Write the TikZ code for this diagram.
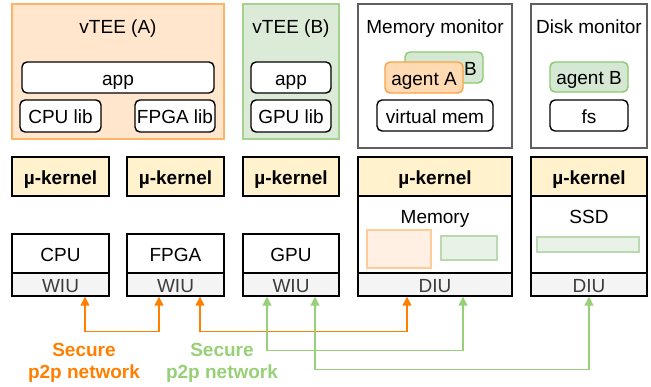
\documentclass[tikz,border=0pt]{standalone}
\usepackage{fontspec}
\setmainfont{Liberation Sans}
\usepackage{xcolor}
\usetikzlibrary{arrows.meta}
\definecolor{teeA}{RGB}{255,230,204}
\definecolor{teeAline}{RGB}{255,179,102}
\definecolor{teeB}{RGB}{220,235,216}
\definecolor{teeBline}{RGB}{165,210,145}
\definecolor{agA}{RGB}{255,218,178}
\definecolor{agAline}{RGB}{255,160,70}
\definecolor{agB}{RGB}{213,232,212}
\definecolor{agBline}{RGB}{140,200,110}
\definecolor{kern}{RGB}{255,242,204}
\definecolor{iface}{RGB}{244,244,244}
\definecolor{ifacetxt}{RGB}{60,60,60}
\definecolor{mon}{RGB}{95,95,95}
\definecolor{regA}{RGB}{255,240,227}
\definecolor{regAline}{RGB}{255,204,153}
\definecolor{regB}{RGB}{233,242,231}
\definecolor{regBline}{RGB}{185,217,176}
\definecolor{netA}{RGB}{255,128,0}
\definecolor{netB}{RGB}{151,208,119}

\newcommand{\figfont}{\fontsize{19}{22}\selectfont}

\tikzset{
  txt/.style={inner sep=0pt, text height=16.3pt, text depth=0.7pt},
  box/.style={txt, draw, line width=1.4pt, minimum width=#1},
  rbox/.style={box=#1, rounded corners=5pt, fill=white, minimum height=31pt},
  kernel/.style={box=#1, fill=kern, minimum height=39pt, font=\figfont\bfseries},
  iface/.style={box=#1, fill=iface, minimum height=23pt, text=ifacetxt},
  net/.style={line width=1.5pt, {Triangle[length=9pt,width=9pt]}-{Triangle[length=9pt,width=9pt]}},
  nettext/.style={inner sep=0pt, align=center, font=\figfont\bfseries}
}

\begin{document}
\begin{tikzpicture}[x=1pt, y=-1pt, font=\figfont]
  \useasboundingbox (0,0) rectangle (651,386);

  % vTEE (A)
  \node[box=212pt, minimum height=135pt, fill=teeA, draw=teeAline] (teea) at (118,71.5) {};
  \node[txt] (teeatitle) at (118,26) {vTEE (A)};
  \node[rbox=192pt] (appa) at (118,77.5) {app};
  \node[rbox=81pt, minimum height=32pt] (cpulib) at (60.5,116) {CPU lib};
  \node[rbox=80pt, minimum height=32pt] (fpgalib) at (175,116) {FPGA lib};

  % vTEE (B)
  \node[box=96pt, minimum height=135pt, fill=teeB, draw=teeBline] (teeb) at (291,71.5) {};
  \node[txt] (teebtitle) at (291,26) {vTEE (B)};
  \node[rbox=80pt] (appb) at (291,77.5) {app};
  \node[rbox=80pt, minimum height=32pt] (gpulib) at (291,116) {GPU lib};

  % memory monitor
  \node[box=154pt, minimum height=144pt, draw=mon] (memmon) at (435,76) {};
  \node[txt] (memmontitle) at (435,26) {Memory monitor};
  \node[rbox=78pt, fill=agB, draw=agBline] (agentbback) at (444,67.5) {agent B};
  \node[rbox=78pt, fill=agA, draw=agAline] (agenta) at (424,77.5) {agent A};
  \node[rbox=116pt] (vmem) at (435,115.5) {virtual mem};

  % disk monitor
  \node[box=116pt, minimum height=144pt, draw=mon] (diskmon) at (589,76) {};
  \node[txt] (diskmontitle) at (589,26) {Disk monitor};
  \node[rbox=78pt, minimum height=30pt, fill=agB, draw=agBline] (agentb) at (589,77) {agent B};
  \node[rbox=78pt] (fs) at (589,115.5) {fs};

  % micro kernels
  \node[kernel=97pt] (kcpu) at (60.5,176.5) {µ-kernel};
  \node[kernel=97pt] (kfpga) at (175.5,176.5) {µ-kernel};
  \node[kernel=96pt] (kgpu) at (291,176.5) {µ-kernel};
  \node[kernel=154pt] (kmem) at (435,176.5) {µ-kernel};
  \node[kernel=116pt] (kssd) at (589,176.5) {µ-kernel};

  % devices
  \node[box=97pt, minimum height=39pt] (cpu) at (60.5,253.5) {CPU};
  \node[box=97pt, minimum height=39pt] (fpga) at (175.5,253.5) {FPGA};
  \node[box=96pt, minimum height=39pt] (gpu) at (291,253.5) {GPU};
  \node[box=154pt, minimum height=77pt] (mem) at (435,234.5) {};
  \node[txt] (memtitle) at (435,216) {Memory};
  \node[draw=regAline, fill=regA, line width=1.2pt, minimum width=64pt, minimum height=38pt] (rega) at (399,249) {};
  \node[draw=regBline, fill=regB, line width=1.2pt, minimum width=56pt, minimum height=24pt] (regb) at (469,248) {};
  \node[box=116pt, minimum height=77pt] (ssd) at (589,234.5) {};
  \node[txt] (ssdtitle) at (589,216) {SSD};
  \node[draw=regBline, fill=regB, line width=1.2pt, minimum width=102pt, minimum height=15pt] (regs) at (588,244.5) {};

  % interface units
  \node[iface=97pt] (wiucpu) at (60.5,284.5) {WIU};
  \node[iface=97pt] (wiufpga) at (175.5,284.5) {WIU};
  \node[iface=96pt] (wiugpu) at (291,284.5) {WIU};
  \node[iface=154pt] (diumem) at (435,284.5) {DIU};
  \node[iface=116pt] (diussd) at (589,284.5) {DIU};

  % secure networks
  \draw[net, netA] ([xshift=24.5pt]wiucpu.south) -- ++(0,35) -| ([xshift=-16.5pt]wiufpga.south);
  \draw[net, netA] ([xshift=24.5pt]wiufpga.south) -- ++(0,35) -| ([xshift=-28pt]diumem.south);
  \draw[net, netB] ([xshift=-24pt]wiugpu.south) -- ++(0,54) -| ([xshift=28pt]diumem.south);
  \draw[net, netB] ([xshift=24pt]wiugpu.south) -- ++(0,73) -| (diussd.south);

  \node[nettext, text=netA] (neta) at (84,363) {Secure\\p2p network};
  \node[nettext, text=netB] (netb) at (222,363) {Secure\\p2p network};
\end{tikzpicture}
\end{document}
